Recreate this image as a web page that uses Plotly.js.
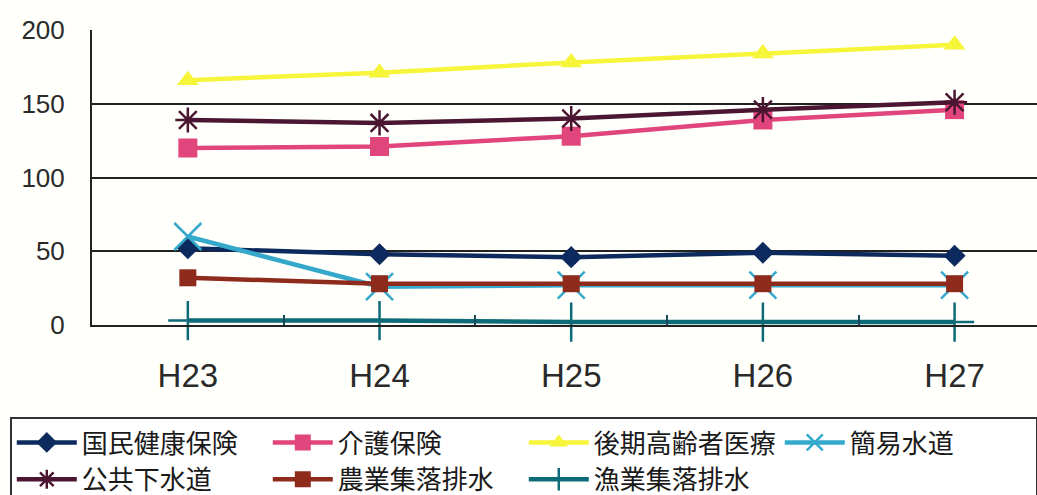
<!DOCTYPE html>
<html>
<head>
<meta charset="utf-8">
<script src="https://cdn.plot.ly/plotly-3.0.1.min.js"></script>
<style>
html,body{margin:0;padding:0;background:#fffffb;}
#chart{width:1037px;height:495px;}
</style>
</head>
<body>
<div id="chart"></div>
<script>
const categories = ["H23", "H24", "H25", "H26", "H27"];
const seriesNames = ["国民健康保険", "介護保険", "後期高齢者医療", "簡易水道", "公共下水道", "農業集落排水", "漁業集落排水"];
const kokuho   = [52, 48, 46, 49, 47];
const kaigo    = [120, 121, 128, 139, 146];
const kouki    = [166, 171, 178, 184, 190];
const kanisuido = [60, 26, 27, 27, 27];
const koukyou  = [139, 137, 140, 146, 151];
const nougyou  = [32, 28, 28, 28, 28];
const gyogyou  = [3, 3, 2, 2, 2];

const seriesValues = [kokuho, kaigo, kouki, kanisuido, koukyou, nougyou, gyogyou];
const colors = ["#0d2a5e", "#e0457b", "#f6f53a", "#35a9cc", "#4a1632", "#8e2b1c", "#0e6b78"];
const symbols = ["diamond", "square", "triangle-up", "x-thin-open", "asterisk-open", "square", "cross-thin-open"];
const sizes = [17, 19, 19, 27, 21, 17, 28];

const traces = seriesValues.map((vals, i) => ({
  type: "scatter",
  mode: "lines+markers",
  name: seriesNames[i],
  x: categories,
  y: vals,
  line: {color: colors[i], width: 4.5},
  marker: {symbol: symbols[i], size: sizes[i], color: colors[i],
           line: {color: colors[i], width: (symbols[i].indexOf("open") >= 0) ? 2.5 : 0}},
  cliponaxis: false
}));

const layout = {
  width: 1037, height: 495,
  paper_bgcolor: "#fffffb",
  plot_bgcolor: "#fffffb",
  margin: {l: 92, r: 0, t: 30, b: 170, autoexpand: false},
  showlegend: true,
  xaxis: {
    type: "category",
    range: [-0.5, 4.43],
    showgrid: false,
    showline: true, linecolor: "#222", linewidth: 2,
    ticks: "inside", tickson: "boundaries", ticklen: 10, tickwidth: 2, tickcolor: "#1a4a55",
    tickfont: {family: "Liberation Sans, Arial, sans-serif", size: 33, color: "#2a2a2a"},
    ticklabelstandoff: 20,
    zeroline: false,
    fixedrange: true
  },
  yaxis: {
    range: [0, 200],
    dtick: 50,
    showgrid: true, gridcolor: "#222", gridwidth: 2,
    showline: true, linecolor: "#222", linewidth: 2,
    zeroline: false,
    ticks: "",
    tickfont: {family: "Liberation Sans, Arial, sans-serif", size: 26, color: "#2a2a2a"},
    ticklabelstandoff: 20,
    fixedrange: true
  },
  legend: {
    orientation: "h",
    x: -0.087, xanchor: "left",
    y: -0.312, yanchor: "top",
    bgcolor: "#ffffff",
    bordercolor: "#333", borderwidth: 2,
    font: {family: "Noto Sans CJK JP, sans-serif", size: 26, color: "#1a1a1a"},
    entrywidth: 181, entrywidthmode: "pixels",
    itemwidth: 60,
    tracegroupgap: 0
  }
};

Plotly.newPlot("chart", traces, layout, {displayModeBar: false, staticPlot: true});
</script>
</body>
</html>
